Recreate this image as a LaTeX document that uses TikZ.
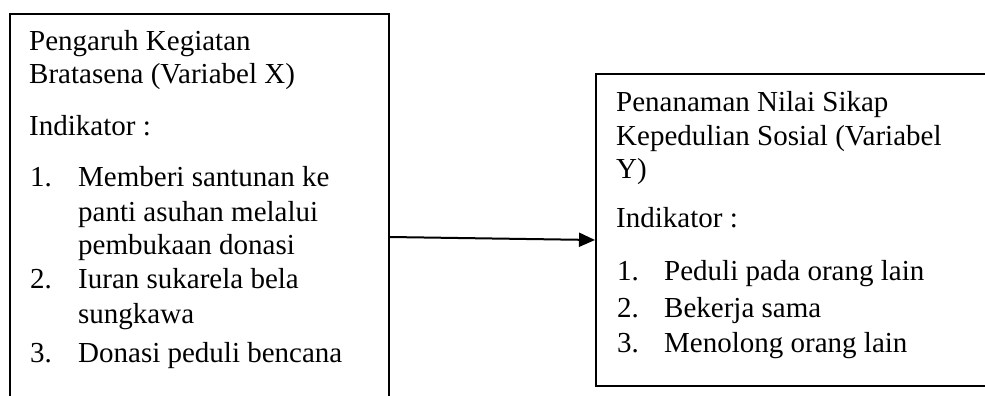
\documentclass[tikz,border=0pt]{standalone}
\usepackage{fontspec}
\setmainfont{Liberation Serif}
\usetikzlibrary{arrows.meta}
\tikzset{
  frame/.style={draw=black, line width=1.7pt, inner sep=0pt, anchor=north west},
  txt/.style={anchor=base west, inner sep=0pt, font=\fontsize{29}{34}\selectfont},
  link/.style={line width=2pt, -{Triangle[length=16pt,width=14pt]}}
}
\begin{document}
\begin{tikzpicture}[x=1pt,y=-1pt]
\useasboundingbox (0,0) rectangle (985,396);
\clip (0,0) rectangle (985,396);
\node[frame, minimum width=379pt, minimum height=400pt] (L) at (9,13) {};
\node[frame, minimum width=420pt, minimum height=312pt] (R) at (595,73) {};
% left texts
\node[txt] (l1) at (29,51) {Pengaruh Kegiatan};
\node[txt] (l2) at (29,84) {Bratasena (Variabel X)};
\node[txt] (l3) at (29,135) {Indikator :};
\node[txt] (ln1) at (30,186) {1.};
\node[txt] (li1a) at (78,186) {Memberi santunan ke};
\node[txt] (li1b) at (78,221) {panti asuhan melalui};
\node[txt] (li1c) at (78,254) {pembukaan donasi};
\node[txt] (ln2) at (30,288) {2.};
\node[txt] (li2a) at (78,288) {Iuran sukarela bela};
\node[txt] (li2b) at (78,323) {sungkawa};
\node[txt] (ln3) at (30,362) {3.};
\node[txt] (li3) at (78,362) {Donasi peduli bencana};
% right texts
\node[txt] (r1) at (616,111) {Penanaman Nilai Sikap};
\node[txt] (r2) at (616,145) {Kepedulian Sosial (Variabel};
\node[txt] (r3) at (616,178) {Y)};
\node[txt] (r4) at (616,227) {Indikator :};
\node[txt] (rn1) at (617,280) {1.};
\node[txt] (ri1) at (664,280) {Peduli pada orang lain};
\node[txt] (rn2) at (617,317) {2.};
\node[txt] (ri2) at (664,317) {Bekerja sama};
\node[txt] (rn3) at (617,352) {3.};
\node[txt] (ri3) at (664,352) {Menolong orang lain};
% connector
\coordinate (ya) at (0,237);
\coordinate (yb) at (0,240);
\draw[link] (L.east |- ya) -- (R.west |- yb);
\end{tikzpicture}
\end{document}
